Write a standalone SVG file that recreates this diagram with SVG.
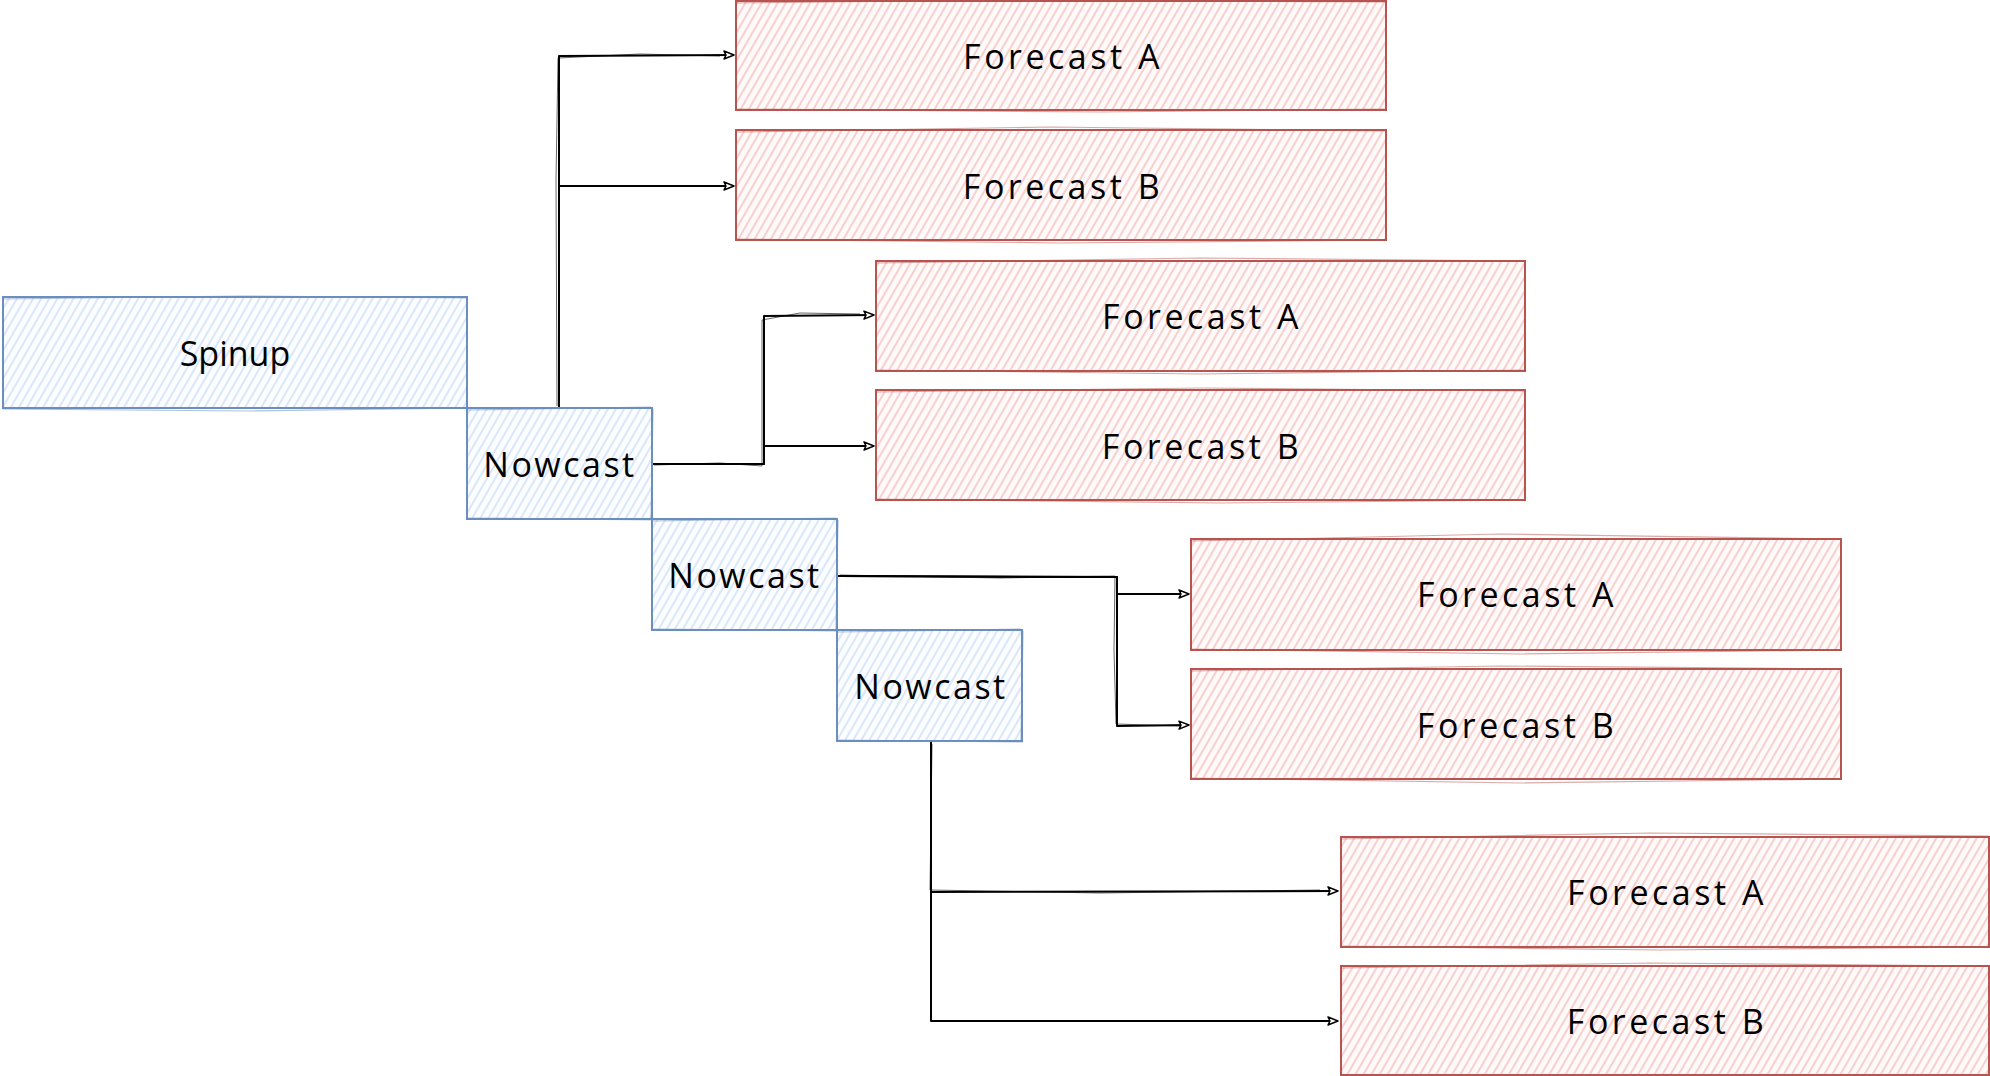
<svg xmlns="http://www.w3.org/2000/svg" width="1990" height="1076" viewBox="0 0 1990 1076">
  <style>
    .box-blue { fill: url(#hatch-blue); stroke: #6c8ebf; stroke-width: 2; }
    .box-red { fill: url(#hatch-red); stroke: #b85450; stroke-width: 2; }
    .sketch-blue { fill: none; stroke: #6c8ebf; stroke-width: 1.2; opacity: 0.55; }
    .sketch-red { fill: none; stroke: #b85450; stroke-width: 1.2; opacity: 0.5; }
    .label { font-family: "Open Sans", "Liberation Sans", sans-serif; font-size: 34px; fill: #000; text-anchor: middle; dominant-baseline: central; letter-spacing: 3.5px; }
    .label.now { letter-spacing: 2.5px; }
    .label.spin { letter-spacing: 0px; }
    .edge { fill: none; stroke: #000; stroke-width: 2; stroke-linejoin: round; }
    .edge-2 { fill: none; stroke: #000; stroke-width: 1; opacity: 0.6; }
  </style>
  <defs>
    <pattern id="hatch-blue" patternUnits="userSpaceOnUse" width="7" height="7" patternTransform="rotate(30)">
      <rect width="7" height="7" fill="#fbfdff"/>
      <line x1="3" y1="0" x2="3" y2="7" stroke="#c9dbf6" stroke-width="1.3"/>
    </pattern>
    <pattern id="hatch-red" patternUnits="userSpaceOnUse" width="7" height="7" patternTransform="rotate(30)">
      <rect width="7" height="7" fill="#fffafa"/>
      <line x1="3" y1="0" x2="3" y2="7" stroke="#f3b9b7" stroke-width="1.3"/>
    </pattern>
    <marker id="arrow" viewBox="0 0 12 10" refX="11" refY="5" markerWidth="12" markerHeight="10" markerUnits="userSpaceOnUse" orient="auto">
      <path d="M1,1 L11,5 L1,9 L3,5 Z" fill="#fff" stroke="#000" stroke-width="1.5" stroke-linejoin="round"/>
    </marker>
  </defs>

  <rect width="1990" height="1076" fill="#fff"/>

  <!-- connectors -->
  <g id="edges">
    <!-- Nowcast 1 (top) to first pair of forecasts -->
    <path class="edge" d="M559,408 L559,56 L734,55" marker-end="url(#arrow)"/>
    <path class="edge" d="M559,408 L559,186 L734,186" marker-end="url(#arrow)"/>
    <path class="edge-2" d="M557,406 L556,180 L558,58 L640,54 L720,56"/>
    <!-- Nowcast 1 (right) to second pair -->
    <path class="edge" d="M652,464 L764,464 L764,316 L874,315" marker-end="url(#arrow)"/>
    <path class="edge" d="M652,464 L764,464 L764,446 L874,446" marker-end="url(#arrow)"/>
    <path class="edge-2" d="M654,465 L720,463 L762,466 L762,320 L800,313 L860,314"/>
    <!-- Nowcast 2 (right) to third pair -->
    <path class="edge" d="M838,576 L1117,577 L1117,594 L1189,594" marker-end="url(#arrow)"/>
    <path class="edge" d="M838,576 L1117,577 L1117,726 L1189,725" marker-end="url(#arrow)"/>
    <path class="edge-2" d="M840,575 L1000,578 L1115,576 L1114,650 L1116,724 L1180,726"/>
    <!-- Nowcast 3 (bottom) to fourth pair -->
    <path class="edge" d="M931,742 L931,892 L1338,891" marker-end="url(#arrow)"/>
    <path class="edge" d="M931,742 L931,1021 L1338,1021" marker-end="url(#arrow)"/>
    <path class="edge-2" d="M932,744 L930,890 L1100,893 L1320,890"/>
  </g>

  <!-- spin-up and nowcast chain -->
  <g id="spinup">
    <rect class="box-blue" x="3" y="297" width="464" height="111"/>
    <path class="sketch-blue" d="M4,299 L240,296 L466,298 M3,409 L250,411 L468,408"/>
    <text class="label spin" x="235" y="353">Spinup</text>
  </g>
  <g id="nowcast-1">
    <rect class="box-blue" x="467" y="408" width="185" height="111"/>
    <path class="sketch-blue" d="M468,410 L651,407 M466,518 L653,520 M653,409 L651,519"/>
    <text class="label now" x="560" y="464">Nowcast</text>
  </g>
  <g id="nowcast-2">
    <rect class="box-blue" x="652" y="519" width="185" height="111"/>
    <path class="sketch-blue" d="M653,521 L836,518 M651,629 L838,631 M838,520 L836,630"/>
    <text class="label now" x="745" y="575">Nowcast</text>
  </g>
  <g id="nowcast-3">
    <rect class="box-blue" x="837" y="630" width="185" height="111"/>
    <path class="sketch-blue" d="M838,632 L1021,629 M836,740 L1023,742 M1023,631 L1021,741"/>
    <text class="label now" x="931" y="686">Nowcast</text>
  </g>

  <!-- forecasts from nowcast 1 (top) -->
  <g id="forecast-a-1">
    <rect class="box-red" x="736" y="1" width="650" height="109"/>
    <path class="sketch-red" d="M737,3 L1000,0 L1385,2 M735,109 L1100,112 L1387,109"/>
    <text class="label" x="1063" y="56">Forecast A</text>
  </g>
  <g id="forecast-b-1">
    <rect class="box-red" x="736" y="130" width="650" height="110"/>
    <path class="sketch-red" d="M737,132 L1050,127 L1385,131 M735,239 L1060,243 L1387,240"/>
    <text class="label" x="1063" y="186">Forecast B</text>
  </g>

  <!-- forecasts from nowcast 1 (right) -->
  <g id="forecast-a-2">
    <rect class="box-red" x="876" y="261" width="649" height="110"/>
    <path class="sketch-red" d="M877,263 L1200,258 L1524,261 M875,370 L1200,374 L1526,370"/>
    <text class="label" x="1202" y="316">Forecast A</text>
  </g>
  <g id="forecast-b-2">
    <rect class="box-red" x="876" y="390" width="649" height="110"/>
    <path class="sketch-red" d="M877,392 L1200,388 L1524,391 M875,499 L1220,503 L1526,500"/>
    <text class="label" x="1202" y="446">Forecast B</text>
  </g>

  <!-- forecasts from nowcast 2 -->
  <g id="forecast-a-3">
    <rect class="box-red" x="1191" y="539" width="650" height="111"/>
    <path class="sketch-red" d="M1192,541 L1500,534 L1840,539 M1190,649 L1520,654 L1842,650"/>
    <text class="label" x="1517" y="594">Forecast A</text>
  </g>
  <g id="forecast-b-3">
    <rect class="box-red" x="1191" y="669" width="650" height="110"/>
    <path class="sketch-red" d="M1192,671 L1500,666 L1840,669 M1190,778 L1520,783 L1842,779"/>
    <text class="label" x="1517" y="725">Forecast B</text>
  </g>

  <!-- forecasts from nowcast 3 -->
  <g id="forecast-a-4">
    <rect class="box-red" x="1341" y="837" width="648" height="110"/>
    <path class="sketch-red" d="M1342,839 L1650,833 L1989,836 M1340,946 L1660,950 L1989,947"/>
    <text class="label" x="1667" y="892">Forecast A</text>
  </g>
  <g id="forecast-b-4">
    <rect class="box-red" x="1341" y="966" width="648" height="109"/>
    <path class="sketch-red" d="M1342,968 L1650,963 L1989,966 M1340,1075 L1989,1075"/>
    <text class="label" x="1667" y="1021">Forecast B</text>
  </g>
</svg>
